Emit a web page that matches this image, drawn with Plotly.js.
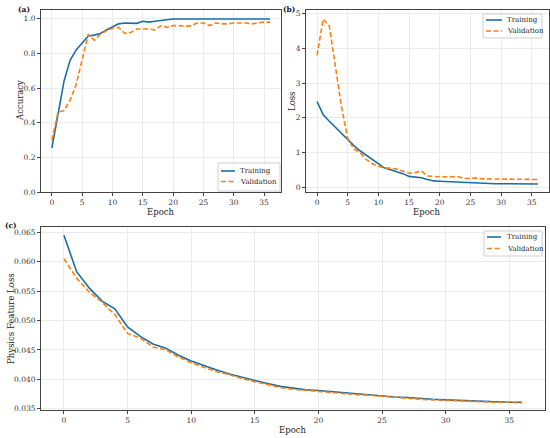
<!DOCTYPE html>
<html>
<head>
<meta charset="utf-8">
<script src="https://cdn.plot.ly/plotly-3.0.1.min.js"></script>
<style>html,body{margin:0;padding:0;background:#fff;}#chart{width:550px;height:438px;}</style>
</head>
<body>
<div id="chart"></div>
<script>
const epochs = Array.from({length: 37}, (_, i) => i);

const trainAcc = [0.254, 0.45, 0.64, 0.76, 0.82, 0.86, 0.90, 0.905, 0.915, 0.935, 0.955, 0.97, 0.975, 0.975, 0.973, 0.985, 0.98, 0.985, 0.99, 0.995, 0.998, 0.998, 0.998, 0.995, 0.998, 0.998, 0.998, 0.998, 0.998, 0.998, 0.998, 0.998, 0.998, 0.998, 0.998, 0.998, 0.998];
const valAcc = [0.30, 0.46, 0.47, 0.53, 0.62, 0.77, 0.91, 0.875, 0.91, 0.93, 0.945, 0.95, 0.915, 0.92, 0.94, 0.94, 0.94, 0.935, 0.96, 0.95, 0.96, 0.96, 0.955, 0.96, 0.975, 0.975, 0.96, 0.975, 0.97, 0.97, 0.975, 0.975, 0.975, 0.97, 0.975, 0.98, 0.98];

const trainLoss = [2.47, 2.09, 1.9, 1.72, 1.55, 1.37, 1.2, 1.05, 0.93, 0.79, 0.67, 0.55, 0.5, 0.45, 0.39, 0.31, 0.3, 0.27, 0.22, 0.18, 0.17, 0.16, 0.15, 0.15, 0.14, 0.13, 0.12, 0.12, 0.11, 0.1, 0.1, 0.1, 0.1, 0.1, 0.1, 0.1, 0.09];
const valLoss = [3.8, 4.85, 4.65, 3.5, 2.3, 1.4, 1.1, 1.0, 0.8, 0.68, 0.6, 0.55, 0.55, 0.52, 0.45, 0.4, 0.42, 0.47, 0.32, 0.3, 0.3, 0.3, 0.3, 0.3, 0.25, 0.26, 0.26, 0.24, 0.24, 0.24, 0.24, 0.23, 0.23, 0.23, 0.22, 0.22, 0.22];

const trainPhys = [0.0645, 0.0583, 0.0555, 0.0533, 0.0520, 0.0489, 0.0473, 0.0460, 0.0453, 0.0441, 0.0431, 0.0423, 0.0416, 0.0409, 0.0403, 0.0398, 0.0393, 0.0388, 0.0385, 0.0382, 0.0381, 0.0379, 0.0377, 0.0375, 0.0374, 0.0372, 0.0370, 0.0369, 0.0367, 0.0366, 0.0365, 0.0364, 0.0363, 0.0362, 0.0362, 0.0361, 0.0361];
const valPhys = [0.0605, 0.0572, 0.0548, 0.0531, 0.0510, 0.0478, 0.0470, 0.0455, 0.0450, 0.0438, 0.0428, 0.0421, 0.0413, 0.0408, 0.0401, 0.0396, 0.0391, 0.0386, 0.0383, 0.0381, 0.0380, 0.0378, 0.0376, 0.0374, 0.0373, 0.0371, 0.0369, 0.0368, 0.0366, 0.0365, 0.0364, 0.0363, 0.0363, 0.0362, 0.0361, 0.0361, 0.0360];

const xTicks = [0, 5, 10, 15, 20, 25, 30, 35];
const accTicks = [0, 0.2, 0.4, 0.6, 0.8, 1.0];
const lossTicks = [0, 1, 2, 3, 4, 5];
const physTicks = [0.035, 0.040, 0.045, 0.050, 0.055, 0.060, 0.065];
const panelLabels = ['(a)', '(b)', '(c)'];
const yTitles = ['Accuracy', 'Loss', 'Physics Feature Loss'];
const xTitle = 'Epoch';
const seriesNames = ['Training', 'Validation'];

const BLUE = '#1b6ea4';
const ORANGE = '#ff7f0e';
const FONT = 'DejaVu Serif, serif';
const W = 550, H = 438;
const px = v => v / W;
const py = v => 1 - v / H;

const lineStyles = [{color: BLUE, width: 1.6}, {color: ORANGE, width: 1.6, dash: '5px,2.5px'}];

function tr(x, y, ax, i) {
  return {x: x, y: y, xaxis: 'x' + ax, yaxis: 'y' + ax, type: 'scatter', mode: 'lines',
          name: seriesNames[i], showlegend: false, line: lineStyles[i]};
}

const data = [
  tr(epochs, trainAcc, '', 0), tr(epochs, valAcc, '', 1),
  tr(epochs, trainLoss, '2', 0), tr(epochs, valLoss, '2', 1),
  tr(epochs, trainPhys, '3', 0), tr(epochs, valPhys, '3', 1)
];

const axBase = {
  showline: true, mirror: true, linecolor: '#444', linewidth: 1,
  ticks: 'outside', ticklen: 3, tickcolor: '#444',
  showgrid: true, gridcolor: '#ebebeb', gridwidth: 1, zeroline: false,
  tickfont: {family: FONT, size: 7.5, color: '#333'}
};
function xa(domain, anchor) {
  return Object.assign({}, axBase, {domain: domain, anchor: anchor, range: [-1.8, 37.8], tickvals: xTicks});
}
function ya(domain, anchor, range, tickvals, ticktext) {
  return Object.assign({}, axBase, {domain: domain, anchor: anchor, range: range, tickvals: tickvals, ticktext: ticktext});
}

const annotations = [];
const shapes = [];
function txt(text, x, y, opts) {
  annotations.push(Object.assign({text: text, x: px(x), y: py(y), xref: 'paper', yref: 'paper',
    showarrow: false, xanchor: 'center', yanchor: 'middle',
    font: {family: FONT, size: 8.5, color: '#222'}}, opts || {}));
}
const labFont = {family: FONT, size: 7.5, color: '#111'};
txt('<b>' + panelLabels[0] + '</b>', 16, 10, {xanchor: 'left', font: labFont});
txt('<b>' + panelLabels[1] + '</b>', 281, 10, {xanchor: 'left', font: labFont});
txt('<b>' + panelLabels[2] + '</b>', 3, 225, {xanchor: 'left', font: labFont});
txt(yTitles[0], 20, 101, {textangle: -90});
txt(yTitles[1], 292, 101, {textangle: -90});
txt(yTitles[2], 11, 319, {textangle: -90});
txt(xTitle, 161, 212);
txt(xTitle, 427, 212);
txt(xTitle, 293, 430);

function legend(x0, y0, x1, y1, lx0, lx1, tx, rows) {
  shapes.push({type: 'rect', xref: 'paper', yref: 'paper', x0: px(x0), x1: px(x1), y0: py(y0), y1: py(y1),
    line: {color: '#cfcfcf', width: 1}, fillcolor: 'rgba(255,255,255,0.85)', layer: 'above'});
  rows.forEach((ry, i) => {
    shapes.push({type: 'line', xref: 'paper', yref: 'paper', x0: px(lx0), x1: px(lx1), y0: py(ry), y1: py(ry),
      line: lineStyles[i], layer: 'above'});
    txt(seriesNames[i], tx, ry, {xanchor: 'left', font: {family: FONT, size: 7, color: '#222'}});
  });
}
legend(218, 163, 280, 191, 221, 235, 238, [171, 181.5]);
legend(483, 14, 542, 38, 486, 502, 505, [20, 31]);
legend(484, 231, 542, 256, 487, 501, 505, [237, 248.5]);

const layout = {
  width: W, height: H,
  margin: {l: 0, r: 0, t: 0, b: 0},
  paper_bgcolor: '#fff', plot_bgcolor: '#fff',
  showlegend: false,
  xaxis: xa([px(41), px(281)], 'y'),
  yaxis: ya([py(192), py(10)], 'x', [0, 1.05], accTicks, accTicks.map(v => v.toFixed(1))),
  xaxis2: xa([px(306), px(549)], 'y2'),
  yaxis2: ya([py(192), py(10)], 'x2', [-0.14, 5.11], lossTicks, lossTicks.map(String)),
  xaxis3: xa([px(41), px(545)], 'y3'),
  yaxis3: ya([py(410), py(227)], 'x3', [0.03478, 0.0659], physTicks, physTicks.map(v => v.toFixed(3))),
  annotations: annotations,
  shapes: shapes
};

Plotly.newPlot('chart', data, layout, {displayModeBar: false, staticPlot: true});
</script>
</body>
</html>
